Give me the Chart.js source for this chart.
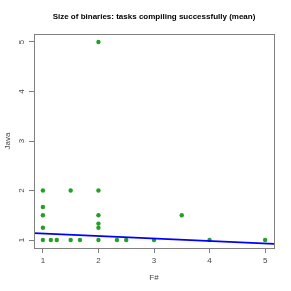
<!DOCTYPE html>
<html>
<head>
<meta charset="utf-8">
<script src="https://cdn.jsdelivr.net/npm/chart.js@4/dist/chart.umd.min.js"></script>
<style>
  html, body { margin: 0; padding: 0; background: #fff; }
  #wrap { width: 291px; height: 291px; }
</style>
</head>
<body>
<div id="wrap"><canvas id="chart_div"></canvas></div>
<script>
const title = 'Size of binaries: tasks compiling successfully (mean)';
const fsharp = [1, 1, 1, 1, 1, 1.143, 1.25, 1.5, 1.5, 1.667, 2, 2, 2, 2, 2, 2, 2.333, 2.5, 3, 3.5, 4, 5];
const java = [1, 1.25, 1.5, 1.667, 2, 1, 1, 1, 2, 1, 1, 1.25, 1.333, 1.5, 2, 5, 1, 1, 1, 1.5, 1, 1];
// fitted line, read at the plot edges
const fitX = [0.84, 5.16];
const fitY = [1.141, 0.925];
const xTicks = [1, 2, 3, 4, 5];
const yTicks = [1, 2, 3, 4, 5];

const boxPlugin = {
  id: 'box',
  afterDraw(chart) {
    const {ctx, chartArea: a} = chart;
    ctx.save();
    ctx.strokeStyle = '#808080';
    ctx.lineWidth = 1;
    ctx.strokeRect(Math.round(a.left) + 0.5, Math.round(a.top) + 0.5,
      Math.round(a.right - a.left), Math.round(a.bottom - a.top));
    ctx.fillStyle = '#000';
    ctx.font = 'bold 8px "Liberation Sans", Arial, sans-serif';
    ctx.textAlign = 'center';
    ctx.textBaseline = 'middle';
    ctx.fillText(title, (a.left + a.right) / 2, 17);
    ctx.restore();
  }
};

const ctx = document.getElementById('chart_div');
const tickFont = {family: '"Liberation Sans", Arial, sans-serif', size: 8};
new Chart(ctx, {
  type: 'scatter',
  data: {
    datasets: [
      {
        data: fsharp.map((x, i) => ({x: x, y: java[i]})),
        backgroundColor: '#22a022',
        borderWidth: 0,
        pointRadius: 2.2,
        order: 1
      },
      {
        type: 'line',
        data: fitX.map((x, i) => ({x: x, y: fitY[i]})),
        borderColor: '#0000ff',
        borderWidth: 1.8,
        pointRadius: 0,
        order: 0
      }
    ]
  },
  options: {
    responsive: true,
    maintainAspectRatio: false,
    animation: false,
    layout: { padding: {left: 0, right: 17, top: 34, bottom: 0} },
    plugins: {
      legend: { display: false },
      tooltip: { enabled: false }
    },
    scales: {
      x: {
        type: 'linear',
        min: 0.84,
        max: 5.16,
        afterFit(s) { s.height = 43; },
        afterBuildTicks(s) { s.ticks = xTicks.map(v => ({value: v})); },
        grid: { drawOnChartArea: false, tickLength: 5, tickColor: '#808080' },
        border: { display: false },
        ticks: { font: tickFont, color: '#444', padding: 3, maxRotation: 0 },
        title: { display: true, text: 'F#', font: tickFont, color: '#444', padding: {top: 0, bottom: 8.5} }
      },
      y: {
        type: 'linear',
        min: 0.84,
        max: 5.16,
        afterFit(s) { s.width = 34; },
        afterBuildTicks(s) { s.ticks = yTicks.map(v => ({value: v})); },
        grid: { drawOnChartArea: false, tickLength: 5, tickColor: '#808080' },
        border: { display: false },
        ticks: { font: tickFont, color: '#444', padding: 5, minRotation: 90, maxRotation: 90, crossAlign: 'center' },
        title: { display: true, text: 'Java', font: tickFont, color: '#444', padding: {top: 3.2, bottom: 0} }
      }
    }
  },
  plugins: [boxPlugin]
});
</script>
</body>
</html>
